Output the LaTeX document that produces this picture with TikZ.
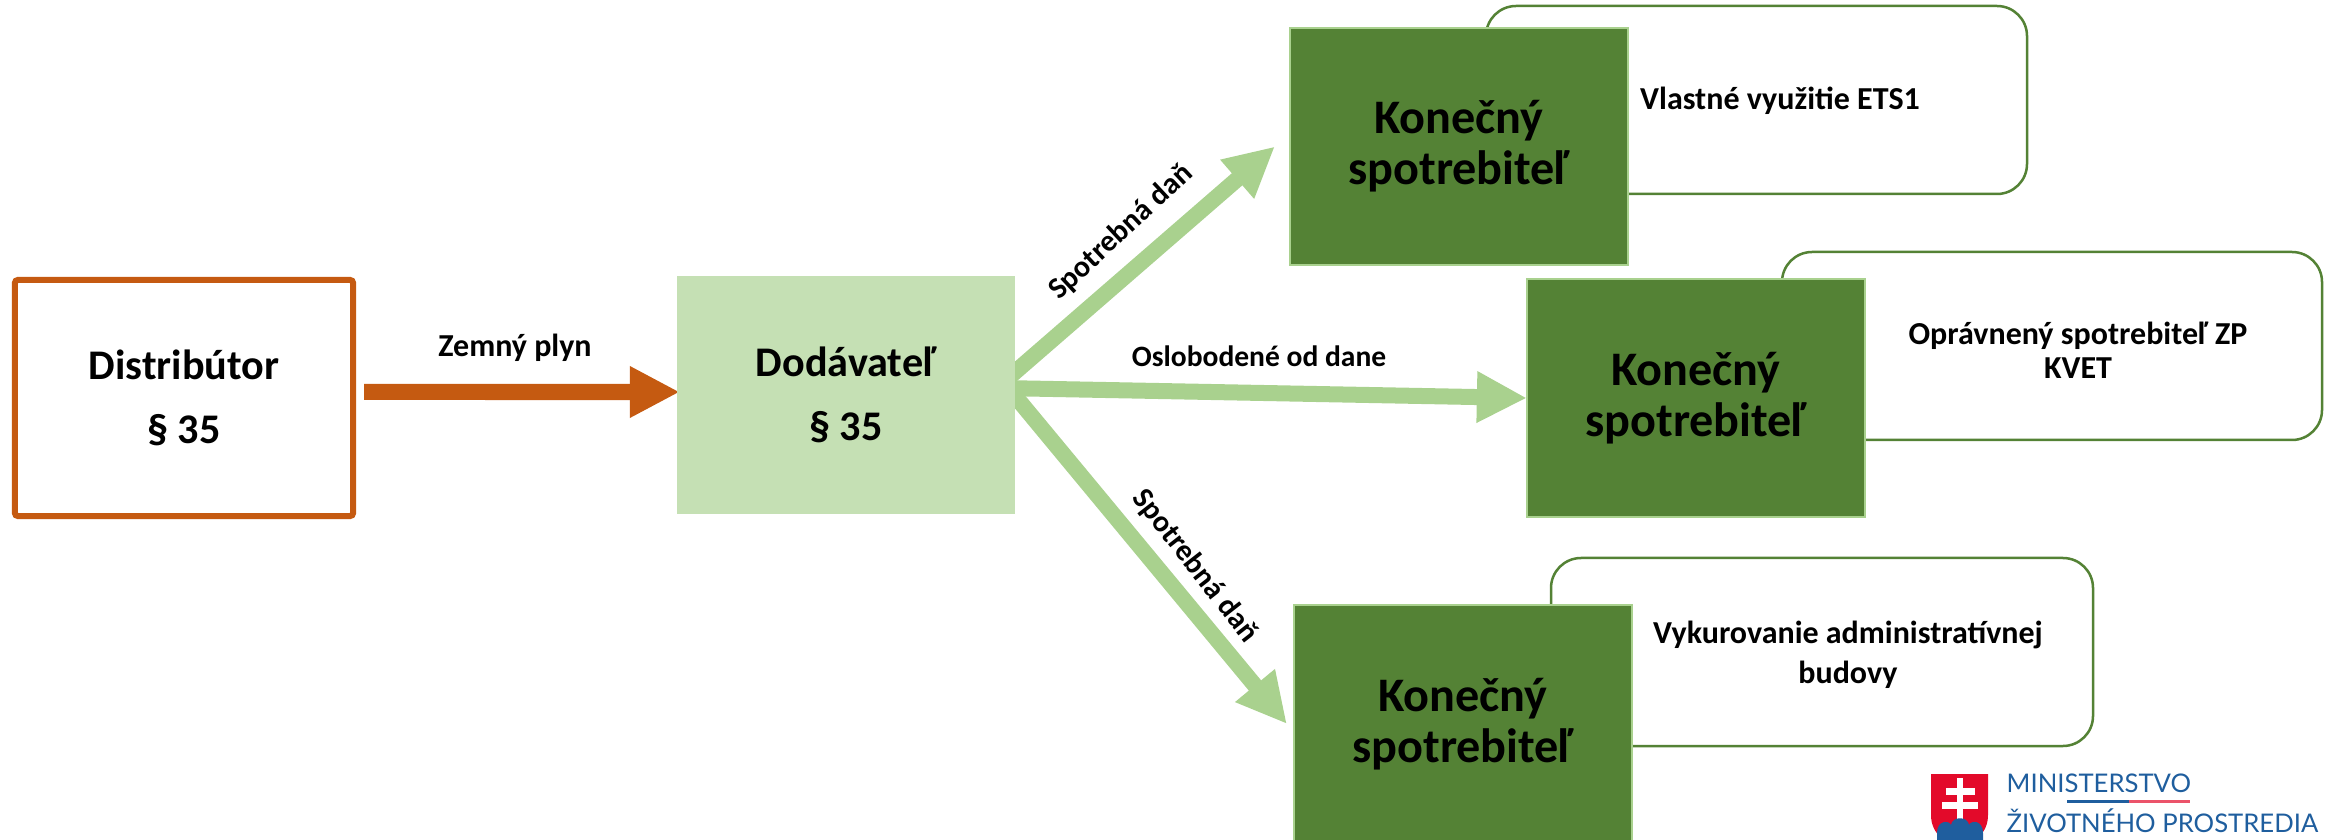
\documentclass[tikz,border=0pt]{standalone}
\usepackage{fontspec}
\setmainfont{Carlito}
\newfontfamily\logofont{Lato}
\usepackage{xcolor}
\usetikzlibrary{arrows.meta,backgrounds}

\definecolor{dkgreen}{HTML}{548235}
\definecolor{midgreen}{HTML}{A9D18E}
\definecolor{ltgreen}{HTML}{C5E0B4}
\definecolor{orng}{HTML}{C55A11}
\definecolor{logoblue}{HTML}{1F5E9E}
\definecolor{logored}{HTML}{E30A2A}

\tikzset{
  box/.style={inner sep=0, outer sep=0, align=center, minimum width=3.38cm, font=\fontsize{12}{18}\selectfont\bfseries},
  endbox/.style={box, draw=midgreen, fill=dkgreen, line width=0.02cm, minimum height=2.37cm, font=\fontsize{13.7}{14.5}\selectfont\bfseries},
  notebox/.style={draw=dkgreen, line width=0.025cm, rounded corners=0.3cm, fill=white},
  note/.style={align=center, font=\fontsize{9.1}{11.4}\selectfont\bfseries},
  label/.style={align=center, font=\fontsize{8.4}{10}\selectfont\bfseries},
  flow/.style={draw=midgreen, line width=0.16cm, -{Triangle[length=0.5cm,width=0.48cm]}},
  logotext/.style={inner sep=0, anchor=base west, text=logoblue, font=\fontsize{7.3}{8}\selectfont\logofont}
}

\begin{document}
\begin{tikzpicture}[x=0.01cm,y=-0.01cm]
\useasboundingbox (0,0) rectangle (2348,840);
\clip (0,0) rectangle (2348,840);

% notes behind the end boxes
\draw[notebox] (1486,6) rectangle (2027,194);
\draw[notebox] (1782,252) rectangle (2322,440);
\draw[notebox] (1551,558) rectangle (2093,746);

\node[box, draw=orng, fill=white, line width=0.06cm, rounded corners=0.03cm, minimum height=2.36cm] (distributor) at (184,398) {Distribútor\\§ 35};
\node[box, fill=ltgreen, minimum height=2.37cm] (dodavatel) at (846,395) {Dodávateľ\\§ 35};

\foreach \name/\x/\y in {konecnyA/1459/146.5, konecnyB/1696/398, konecnyC/1463/724}
	\node[endbox] (\name) at (\x,\y) {Konečný\\spotrebiteľ};

\begin{scope}[on background layer]
\draw[flow, draw=orng] ([xshift=0.11cm,yshift=0.06cm]distributor.east) -- ([xshift=0.03cm,yshift=0.03cm]dodavatel.west);
\draw[flow] ([xshift=-0.15cm,yshift=0.10cm]dodavatel.east) -- ([xshift=-0.15cm]konecnyA.west);
\draw[flow] ([xshift=-0.15cm,yshift=0.07cm]dodavatel.east) -- (konecnyB.west);
\draw[flow] ([xshift=-0.10cm,yshift=0.11cm]dodavatel.east) -- ([xshift=-0.07cm]konecnyC.west);
\end{scope}

\node[note] (plyn) at (515,348) {Zemný plyn};
\node[label, font=\fontsize{8.6}{10}\selectfont\bfseries, rotate=43] (danA) at (1121,232) {Spotrebná daň};
\node[label] (oslobodene) at (1259,356) {Oslobodené od dane};
\node[label, font=\fontsize{8.6}{10}\selectfont\bfseries, rotate=-52] (danC) at (1195,566) {Spotrebná daň};

\node[note] (etsA) at (1780,101) {Vlastné využitie ETS1};
\node[note, font=\fontsize{9.1}{9.8}\selectfont\bfseries] (kvet) at (2078,350) {Oprávnený spotrebiteľ ZP\\KVET};
\node[note] (budova) at (1848,655) {Vykurovanie administratívnej\\budovy};

% logo
\fill[logored] (1931,774) -- (1988,774) -- (1988,815) .. controls (1988,835) and (1972,843) .. (1960,850) .. controls (1947,843) and (1931,835) .. (1931,815) -- cycle;
\fill[white] (1957,778) rectangle (1963,821);
\fill[white] (1946,788) rectangle (1975,795);
\fill[white] (1942,802) rectangle (1978,809);
\fill[logoblue] (1937,833) .. controls (1937,820) and (1949,820) .. (1951,825) .. controls (1952,816) and (1968,816) .. (1969,825) .. controls (1971,820) and (1983,820) .. (1983,833) -- (1983,840) -- (1937,840) -- cycle;
\node[logotext] (ministerstvo) at (2006,792) {MINISTERSTVO};
\node[logotext] (zivotneho) at (2006,832) {ŽIVOTNÉHO PROSTREDIA};
\fill[logoblue] (2067,800) rectangle (2129,803);
\fill[logored!70] (2129,800) rectangle (2190,803);
\end{tikzpicture}
\end{document}
